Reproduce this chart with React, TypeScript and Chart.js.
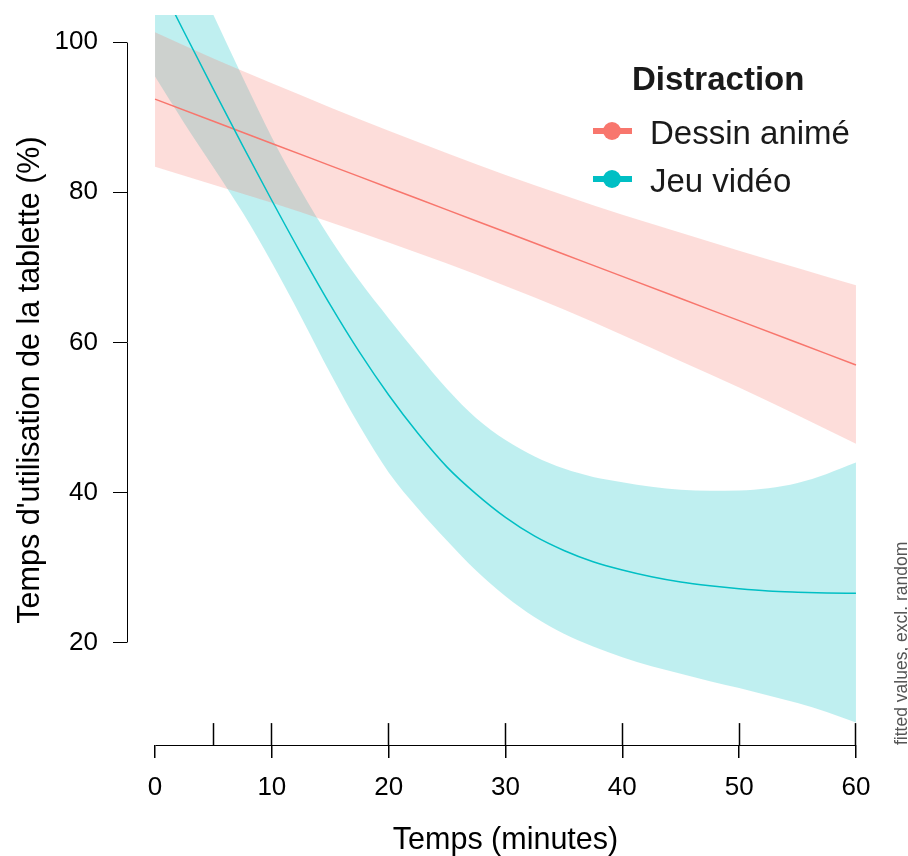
import React, { useEffect, useRef } from 'react';
import { Chart, registerables } from 'chart.js';

Chart.register(...registerables);

// ---- data ----
const seriesNames = ['Dessin animé', 'Jeu vidéo'];
const legendTitle = 'Distraction';
const xTitle = 'Temps (minutes)';
const yTitle = "Temps d'utilisation de la tablette (%)";
const sideNote = 'fitted values, excl. random';

const timeCoarse = [0, 5, 10, 15, 20, 25, 30, 35, 40, 45, 50, 55, 60];
const dessinFit = [92.4, 89.45, 86.5, 83.55, 80.6, 77.65, 74.7, 71.75, 68.8, 65.85, 62.9, 59.95, 57.0];
const dessinUpper = [101.3, 97.8, 94.5, 91.3, 88.2, 85.2, 82.3, 79.6, 77.0, 74.6, 72.2, 69.9, 67.6];
const dessinLower = [83.4, 81.0, 78.6, 76.0, 73.3, 70.5, 67.5, 64.4, 61.0, 57.5, 54.0, 50.3, 46.5];

const timeFine = [0, 2.5, 5, 7.5, 10, 12.5, 15, 17.5, 20, 22.5, 25, 27.5, 30, 32.5, 35, 37.5, 40, 42.5, 45, 47.5, 50, 52.5, 55, 57.5, 60];
const jeuFit = [109.0, 101.3, 93.7, 86.2, 78.9, 71.8, 65.0, 58.7, 53.0, 47.9, 43.4, 39.8, 36.7, 34.2, 32.3, 30.8, 29.7, 28.8, 28.1, 27.6, 27.2, 26.9, 26.75, 26.65, 26.6];
const jeuUpper = [120.5, 112.0, 103.6, 95.3, 87.3, 80.2, 73.8, 68.2, 63.2, 58.4, 53.8, 49.9, 47.0, 44.8, 43.2, 42.1, 41.4, 40.8, 40.4, 40.25, 40.3, 40.6, 41.3, 42.5, 44.0];
const jeuLower = [95.4, 89.2, 83.3, 77.3, 70.6, 63.4, 55.9, 48.9, 42.7, 37.9, 33.6, 29.6, 26.2, 23.4, 21.2, 19.5, 18.1, 16.9, 15.9, 14.9, 14.0, 13.0, 12.0, 10.8, 9.4];

const xTicks = [0, 10, 20, 30, 40, 50, 60];
const yTicks = [20, 40, 60, 80, 100];
const rugTimes = [5, 10, 20, 30, 40, 50, 60];

const colors = ['#F8766D', '#00BFC4'];
const bandColors = ['rgba(248,118,109,0.25)', 'rgba(0,191,196,0.25)'];

const FONT = '"Liberation Sans", Arial, Helvetica, sans-serif';

const pts = (xs: number[], ys: number[]) => xs.map((x, i) => ({ x, y: ys[i] }));

const align = (p: number) => Math.round(p - 0.5) + 0.5;

const basePlugin = {
  id: 'baseAxes',
  afterDraw(chart: any) {
    const { ctx, chartArea, scales } = chart;
    const x = scales.x;
    const y = scales.y;
    ctx.save();
    ctx.strokeStyle = '#000';
    ctx.lineWidth = 1;
    // y axis line spanning the tick range
    const yl = align(chartArea.left);
    ctx.beginPath();
    ctx.moveTo(yl, align(y.getPixelForValue(yTicks[yTicks.length - 1])));
    ctx.lineTo(yl, align(y.getPixelForValue(yTicks[0])));
    ctx.stroke();
    // x axis line spanning the tick range
    const xb = align(chartArea.bottom);
    ctx.beginPath();
    ctx.moveTo(align(x.getPixelForValue(xTicks[0])), xb);
    ctx.lineTo(align(x.getPixelForValue(xTicks[xTicks.length - 1])), xb);
    ctx.stroke();
    // rug
    const rugLen = 0.03 * (chartArea.bottom - chartArea.top);
    ctx.lineWidth = 1.5;
    rugTimes.forEach((t) => {
      const px = align(x.getPixelForValue(t));
      ctx.beginPath();
      ctx.moveTo(px, chartArea.bottom);
      ctx.lineTo(px, chartArea.bottom - rugLen);
      ctx.stroke();
    });
    // side note
    ctx.fillStyle = '#555';
    ctx.font = `17.5px ${FONT}`;
    ctx.textAlign = 'left';
    ctx.textBaseline = 'middle';
    ctx.translate(chartArea.right + 18, chartArea.bottom);
    ctx.rotate(-Math.PI / 2);
    ctx.fillText(sideNote, 0, 0);
    ctx.restore();
  },
};

function Legend() {
  const rows = [
    { name: seriesNames[0], color: colors[0], top: 116 },
    { name: seriesNames[1], color: colors[1], top: 164 },
  ];
  return (
    <>
      <div
        style={{
          position: 'absolute',
          left: 632,
          top: 62,
          font: `bold 33px ${FONT}`,
          lineHeight: '33px',
          color: '#1a1a1a',
          whiteSpace: 'nowrap',
        }}
      >
        {legendTitle}
      </div>
      {rows.map((r) => (
        <React.Fragment key={r.name}>
          <div
            style={{
              position: 'absolute',
              left: 593,
              top: r.top + 12,
              width: 39,
              height: 6,
              background: r.color,
            }}
          />
          <div
            style={{
              position: 'absolute',
              left: 603,
              top: r.top + 6,
              width: 18,
              height: 18,
              borderRadius: '50%',
              background: r.color,
            }}
          />
          <div
            style={{
              position: 'absolute',
              left: 650,
              top: r.top,
              font: `33px ${FONT}`,
              lineHeight: '33px',
              color: '#1a1a1a',
              whiteSpace: 'nowrap',
            }}
          >
            {r.name}
          </div>
        </React.Fragment>
      ))}
    </>
  );
}

export default function App() {
  const canvasRef = useRef<HTMLCanvasElement | null>(null);

  useEffect(() => {
    const canvas = canvasRef.current;
    if (!canvas) return;
    const common = { pointRadius: 0, pointHoverRadius: 0, cubicInterpolationMode: 'monotone' as const };
    const chart = new Chart(canvas, {
      type: 'line',
      data: {
        datasets: [
          {
            label: seriesNames[1] + ' upper',
            data: pts(timeFine, jeuUpper),
            borderWidth: 0,
            borderColor: 'rgba(0,0,0,0)',
            backgroundColor: bandColors[1],
            fill: '+1',
            order: 4,
            ...common,
          },
          {
            label: seriesNames[1] + ' lower',
            data: pts(timeFine, jeuLower),
            borderWidth: 0,
            borderColor: 'rgba(0,0,0,0)',
            fill: false,
            order: 4,
            ...common,
          },
          {
            label: seriesNames[0] + ' upper',
            data: pts(timeCoarse, dessinUpper),
            borderWidth: 0,
            borderColor: 'rgba(0,0,0,0)',
            backgroundColor: bandColors[0],
            fill: '+1',
            order: 3,
            ...common,
          },
          {
            label: seriesNames[0] + ' lower',
            data: pts(timeCoarse, dessinLower),
            borderWidth: 0,
            borderColor: 'rgba(0,0,0,0)',
            fill: false,
            order: 3,
            ...common,
          },
          {
            label: seriesNames[0],
            data: pts(timeCoarse, dessinFit),
            borderWidth: 1.5,
            borderColor: colors[0],
            fill: false,
            order: 2,
            ...common,
          },
          {
            label: seriesNames[1],
            data: pts(timeFine, jeuFit),
            borderWidth: 1.5,
            borderColor: colors[1],
            fill: false,
            order: 1,
            ...common,
          },
        ],
      },
      options: {
        responsive: false,
        animation: false,
        events: [],
        layout: { padding: { left: 0, right: 24, top: 15, bottom: 0 } },
        plugins: {
          legend: { display: false },
          tooltip: { enabled: false },
        },
        scales: {
          x: {
            type: 'linear',
            min: -2.4,
            max: 62.4,
            border: { display: false },
            grid: {
              drawOnChartArea: false,
              drawTicks: true,
              tickLength: 13,
              tickColor: '#000',
              color: '#000',
              lineWidth: 1.5,
            },
            ticks: {
              autoSkip: false,
              maxRotation: 0,
              padding: 14,
              color: '#000',
              font: { family: FONT, size: 26 },
            },
            afterBuildTicks: (s: any) => {
              s.ticks = xTicks.map((v) => ({ value: v }));
            },
            afterFit: (s: any) => {
              s.height = 111;
              s.paddingLeft = 0;
              s.paddingRight = 0;
            },
            title: {
              display: true,
              text: xTitle,
              color: '#000',
              font: { family: FONT, size: 30.5, lineHeight: 1 },
              padding: { top: 0, bottom: 0 },
            },
          },
          y: {
            type: 'linear',
            min: 6.4,
            max: 103.6,
            border: { display: false },
            grid: {
              drawOnChartArea: false,
              drawTicks: true,
              tickLength: 14,
              tickColor: '#000',
              color: '#000',
              lineWidth: 1,
            },
            ticks: {
              autoSkip: false,
              padding: 15,
              color: '#000',
              font: { family: FONT, size: 26 },
            },
            afterBuildTicks: (s: any) => {
              s.ticks = yTicks.map((v) => ({ value: v }));
            },
            afterFit: (s: any) => {
              s.width = 127;
              s.paddingTop = 0;
              s.paddingBottom = 0;
            },
            title: {
              display: true,
              text: yTitle,
              color: '#000',
              font: { family: FONT, size: 30.5 },
              padding: { top: 12, bottom: 0 },
            },
          },
        },
      },
      plugins: [basePlugin],
    });
    return () => chart.destroy();
  }, []);

  return (
    <div style={{ position: 'absolute', left: 0, top: 0, width: 908, height: 856, background: '#fff', overflow: 'hidden' }}>
      <canvas ref={canvasRef} width={908} height={856} style={{ display: 'block' }} />
      <Legend />
    </div>
  );
}
